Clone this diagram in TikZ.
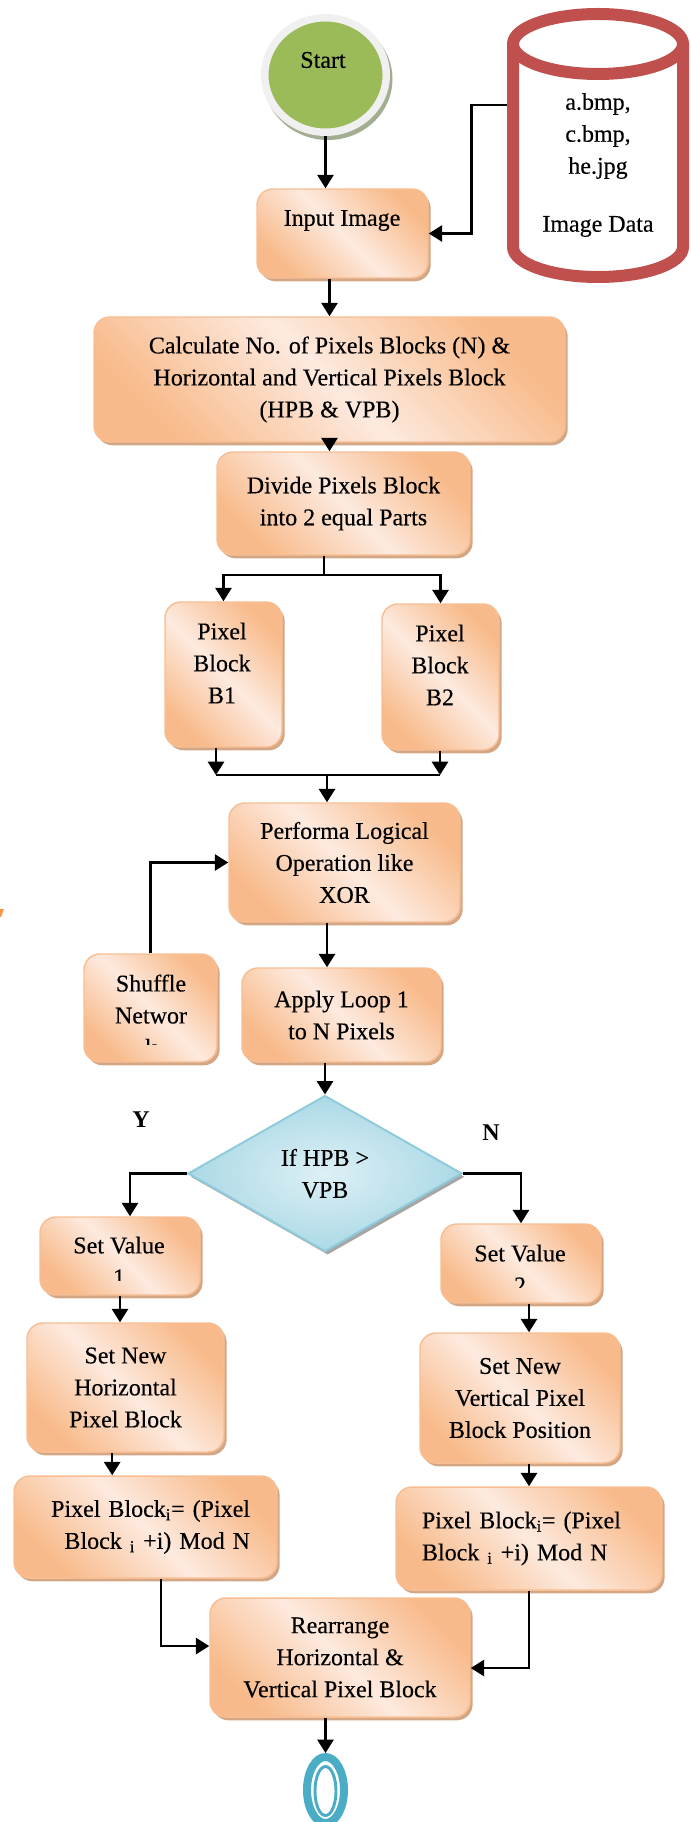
\documentclass[tikz,border=0pt]{standalone}
\usepackage{fontspec}
\setmainfont{Liberation Serif}[UprightFeatures={FakeBold=0.3}]
\usetikzlibrary{shapes.geometric,shadows,arrows.meta,calc}

\definecolor{boxdark}{HTML}{F8BA8A}
\definecolor{boxlight}{HTML}{FDEADF}
\definecolor{boxline}{HTML}{F7BE93}
\definecolor{boxshadow}{HTML}{D3A785}
\definecolor{diaL}{HTML}{DDF0F5}
\definecolor{diaD}{HTML}{ABD9E6}
\definecolor{dialine}{HTML}{8FCBDB}
\definecolor{startg}{HTML}{9BBB59}
\definecolor{startshadow}{HTML}{A3AE91}
\definecolor{dbred}{HTML}{C0504D}
\definecolor{endteal}{HTML}{4BACC6}
\definecolor{markor}{HTML}{F79646}

\begin{document}
\begin{tikzpicture}[x=0.75pt,y=-0.75pt,
  every node/.style={font=\fontsize{18}{24}\selectfont, text=black},
  sz/.style 2 args={minimum width=#1*0.75pt, minimum height=#2*0.75pt},
  box/.style={rectangle, rounded corners=12pt, draw=boxline, line width=1.1pt,
    left color=boxdark, right color=boxdark, middle color=boxlight, shading angle=135,
    drop shadow={shadow xshift=2pt, shadow yshift=-2.5pt, fill=boxshadow, opacity=1},
    inner sep=0pt, align=center},
  dia/.style={diamond, aspect=1.75, draw=dialine, line width=1.5pt,
    inner color=diaL, outer color=diaD,
    drop shadow={shadow xshift=2pt, shadow yshift=-2.5pt, fill=black!35, opacity=1},
    inner sep=0pt, align=center},
  startc/.style={ellipse, fill=startg, draw=black!6, line width=5.6pt, inner sep=0pt},
  endo/.style={ellipse, draw=endteal, line width=6pt, fill=white, inner sep=0pt},
  endi/.style={ellipse, draw=endteal, line width=2.2pt, inner sep=0pt},
  cyl/.style={draw=dbred, line width=9pt},
  txt/.style={inner sep=0pt, align=center},
  lbl/.style={inner sep=0pt, font=\fontsize{18}{24}\selectfont\bfseries},
  arr/.style={draw=black, line width=1.9pt, -{Triangle[length=10pt,width=12pt]}},
  lnk/.style={draw=black, line width=1.9pt}
]
\useasboundingbox (0,0) rectangle (691,1822);

% start terminal
\fill[startshadow] (328,79) ellipse [x radius=64.5, y radius=61];
\node[startc, sz={121.5}{114.5}] (start) at (325.5,75) {};
\node[txt] (starttxt) at (323,60) {Start};

% image store
\fill[white] (513,44) rectangle (683,247);
\fill[white] (598,247) ellipse [x radius=85, y radius=30];
\draw[cyl] (513,44) -- (513,247) arc[start angle=180, end angle=0, x radius=85, y radius=30] -- (683,44);
\draw[cyl, fill=white] (598,44) ellipse [x radius=85, y radius=30];
\node[txt, minimum width=127.5pt] (db) at (598,165) {a.bmp,\\c.bmp,\\he.jpg\\[19.5pt]Image Data};

% process boxes
\node[box, sz={171}{89}] (input) at (342.5,233.5) {};
\node[txt] (inputtxt) at (342,220.5) {Input Image};

\node[box, sz={471}{125}] (calc) at (329.5,379.5)
  {Calculate No. of Pixels Blocks (N) \&\\Horizontal and Vertical Pixels Block\\(HPB \& VPB)};

\node[box, sz={253}{103}] (divide) at (343.5,503.5) {Divide Pixels Block\\into 2 equal Parts};

\node[box, sz={117}{145}] (b1) at (223.5,674.5) {};
\node[txt] (b1txt) at (222,663) {Pixel\\Block\\B1};
\node[box, sz={117}{146}] (b2) at (440.5,677) {};
\node[txt] (b2txt) at (440,665) {Pixel\\Block\\B2};

\node[box, sz={231}{119}] (perf) at (344.5,862.5) {Performa Logical\\Operation like\\XOR};

\node[box, sz={133}{108}] (shuffle) at (150.5,1008) {};
\begin{scope}
  \clip (84,954) rectangle (217,1044);
  \node[txt] (shuffletxt) at (151,1015) {Shuffle\\Networ\\k};
\end{scope}

\node[box, sz={199}{94}] (apply) at (341.5,1015) {Apply Loop 1\\to N Pixels};

\node[dia, sz={274}{156}] (cond) at (325,1173.5) {If HPB >\\VPB};
\node[lbl] (ylbl) at (141,1120) {Y};
\node[lbl] (nlbl) at (491,1133) {N};

\node[box, sz={160}{78}] (sv1) at (120,1256) {};
\begin{scope}
  \clip (40,1217) rectangle (200,1280);
  \node[txt] (sv1txt) at (119,1261) {Set Value\\1};
\end{scope}
\node[box, sz={160}{79}] (sv2) at (521,1263.5) {};
\begin{scope}
  \clip (441,1224) rectangle (601,1287);
  \node[txt] (sv2txt) at (520,1269) {Set Value\\2};
\end{scope}

\node[box, sz={197}{129}] (snh) at (125.5,1387.5) {Set New\\Horizontal\\Pixel Block};
\node[box, sz={200}{130}] (snv) at (520,1398) {Set New\\Vertical Pixel\\Block Position};

\node[box, sz={263}{102}, text width=156.75pt, align=right] (pbl) at (145.5,1527)
  {Pixel Block\textsubscript{i}= (Pixel\\Block \textsubscript{i} +i) Mod N};
\node[box, sz={266}{103}, text width=160.5pt, align=left] (pbr) at (529,1538.5)
  {Pixel Block\textsubscript{i}= (Pixel\\Block \textsubscript{i} +i) Mod N};

\node[box, sz={260}{119}] (rear) at (340,1657.5) {Rearrange\\Horizontal \&\\Vertical Pixel Block};

% end terminal
\node[endo, sz={37}{66}] (stop) at (325.5,1790) {};
\node[endi, sz={21}{49}] (stopin) at (325.5,1791) {};

% small orange fragment at the left edge
\fill[markor] (0,909) -- (4,909) -- (1,917) -- (0,917) -- cycle;

% junction points
\coordinate (fk) at (324,575);
\coordinate (ml) at (216,775);
\coordinate (mr) at (440,775);
\coordinate (mg) at (327,775);
\coordinate (yb) at (130,1173.5);

% connectors
\draw[arr] (start.south) -- (start.south |- input.north);
\draw[arr] ([xshift=-4.5pt, yshift=45pt]db.west) -- ++(-35,0) |- (input.east);
\draw[arr] (calc.north |- input.south) -- (calc.north);
\draw[arr] (calc.south) -- (calc.south |- divide.north);
\draw[lnk] (divide.south -| fk) -- (fk);
\draw[arr] (fk) -| (b1.north);
\draw[arr] (fk) -| (b2.north);
\draw[arr] (b1.south -| ml) -- (ml);
\draw[arr] (b2.south -| mr) -- (mr);
\draw[lnk] (ml) -- (mr);
\draw[arr] (mg) -- (mg |- perf.north);
\draw[arr] (shuffle.north) |- (perf.west);
\draw[arr] (perf.south -| mg) -- (apply.north -| mg);
\draw[arr] (apply.south -| cond.north) -- (cond.north);
\draw[arr] (cond.west) -- (yb) -- (yb |- sv1.north);
\draw[arr] (cond.east) -| (sv2.north);
\draw[arr] (sv1.south) -- (sv1.south |- snh.north);
\draw[arr] (sv2.south -| pbr.north) -- (snv.north -| pbr.north);
\draw[arr] ([xshift=-10pt]snh.south) -- ([xshift=-10pt]snh.south |- pbl.north);
\draw[arr] (snv.south -| pbr.north) -- (pbr.north);
\draw[arr] ([xshift=11.6pt]pbl.south) |- ([yshift=8.6pt]rear.west);
\draw[arr] (pbr.south) |- ([yshift=-7.9pt]rear.east);
\draw[arr] (rear.south -| stop.north) -- (stop.north);
\end{tikzpicture}
\end{document}
